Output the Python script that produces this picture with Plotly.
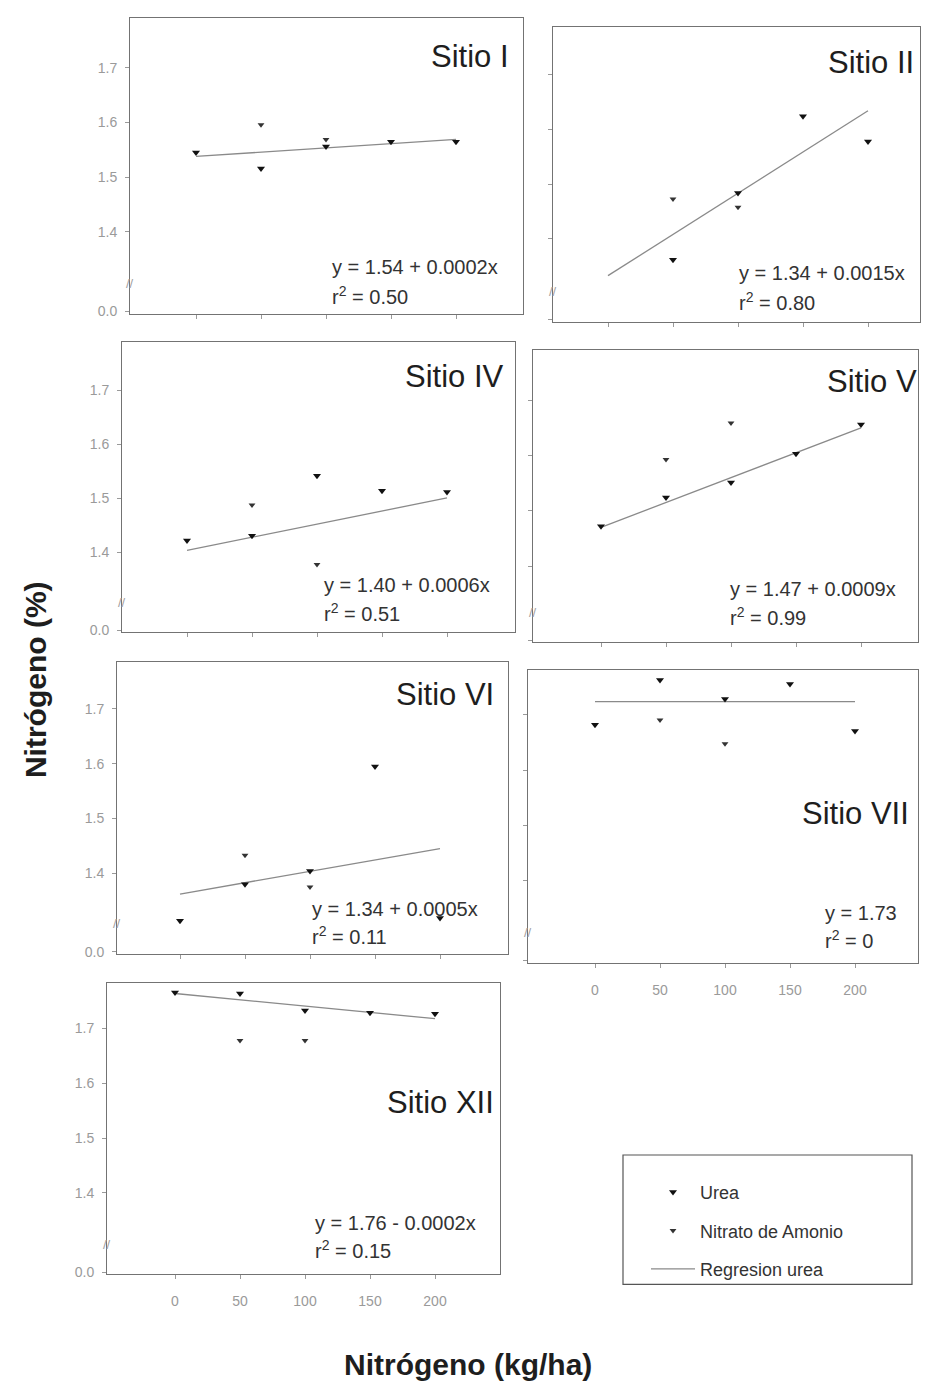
import plotly.graph_objects as go

W, H = 925, 1391

# ---------------- data ----------------
n_rates = [0, 50, 100, 150, 200]
reg_x = [0, 200]

sites = ["Sitio I", "Sitio II", "Sitio IV", "Sitio V", "Sitio VI", "Sitio VII", "Sitio XII"]

urea_I = [1.545, 1.516, 1.556, 1.565, 1.565]
nitrato_I = [None, 1.596, 1.569, None, None]
reg_I = [1.538, 1.569]

urea_II = [None, 1.362, 1.484, 1.624, 1.578]
nitrato_II = [None, 1.473, 1.458, None, None]
reg_II = [1.333, 1.634]

urea_IV = [1.422, 1.431, 1.542, 1.514, 1.512]
nitrato_IV = [None, 1.488, 1.378, None, None]
reg_IV = [1.404, 1.501]

urea_V = [1.472, 1.524, 1.551, 1.603, 1.656]
nitrato_V = [None, 1.593, 1.659, None, None]
reg_V = [1.470, 1.650]

urea_VI = [1.313, 1.380, 1.404, 1.595, 1.318]
nitrato_VI = [None, 1.433, 1.375, None, None]
reg_VI = [1.362, 1.445]

urea_VII = [1.682, 1.763, 1.729, 1.756, 1.671]
nitrato_VII = [None, 1.691, 1.648, None, None]
reg_VII = [1.724, 1.724]

urea_XII = [1.766, 1.764, 1.733, 1.729, 1.727]
nitrato_XII = [None, 1.678, 1.678, None, None]
reg_XII = [1.764, 1.718]

eq_texts = ["y = 1.54 + 0.0002x", "y = 1.34 + 0.0015x", "y = 1.40 + 0.0006x",
            "y = 1.47 + 0.0009x", "y = 1.34 + 0.0005x", "y = 1.73", "y = 1.76 - 0.0002x"]
r2_texts = ["0.50", "0.80", "0.51", "0.99", "0.11", "0", "0.15"]

y_tick_vals = [1.4, 1.5, 1.6, 1.7]
y_tick_text = ["1.4", "1.5", "1.6", "1.7"]
x_tick_vals = [0, 50, 100, 150, 200]
x_tick_text = ["0", "50", "100", "150", "200"]

urea_all = [urea_I, urea_II, urea_IV, urea_V, urea_VI, urea_VII, urea_XII]
nitrato_all = [nitrato_I, nitrato_II, nitrato_IV, nitrato_V, nitrato_VI, nitrato_VII, nitrato_XII]
reg_all = [reg_I, reg_II, reg_IV, reg_V, reg_VI, reg_VII, reg_XII]

# ---------------- layout geometry (pixels) ----------------
geom = [
    dict(L=130, R=523, T=18, B=315, z=196, p17=68, ppu=550, ylab=True, xlab=False,
         tr=511, tc=57, el=330, ec=268, rc=297),
    dict(L=553, R=920, T=27, B=323, z=608, p17=75, ppu=550, ylab=False, xlab=False,
         tr=916, tc=63, el=737, ec=274, rc=303),
    dict(L=122, R=515, T=343, B=635, z=187, p17=392, ppu=543, ylab=True, xlab=False,
         tr=506, tc=378, el=322, ec=588, rc=615),
    dict(L=533, R=918, T=352, B=645, z=601, p17=402, ppu=555, ylab=False, xlab=False,
         tr=919, tc=383, el=728, ec=592, rc=619),
    dict(L=117, R=508, T=665, B=958, z=180, p17=712, ppu=550, ylab=True, xlab=False,
         tr=496, tc=698, el=310, ec=913, rc=940),
    dict(L=528, R=918, T=673, B=967, z=595, p17=718, ppu=555, ylab=False, xlab=True,
         tr=911, tc=817, el=823, ec=917, rc=944),
    dict(L=107, R=500, T=987, B=1280, z=175, p17=1033, ppu=550, ylab=True, xlab=True,
         tr=496, tc=1107, el=313, ec=1228, rc=1255),
]

XPPU = 1.3  # px per kg/ha


def px_x(p):
    return p / W


def px_y(p):
    return 1 - p / H


FONT = "Liberation Sans, Arial, sans-serif"

fig = go.Figure()
annotations = []
shapes = []

for i, (site, g) in enumerate(zip(sites, geom)):
    k = i + 1
    xa = "x" if k == 1 else f"x{k}"
    ya = "y" if k == 1 else f"y{k}"
    first = (i == 0)

    fig.add_trace(go.Scatter(
        x=reg_x, y=reg_all[i], mode="lines", xaxis=xa, yaxis=ya,
        line=dict(color="#8a8a8a", width=1.3),
        name="Regresion urea", legendgroup="reg", showlegend=first, legendrank=3))
    fig.add_trace(go.Scatter(
        x=n_rates, y=urea_all[i], mode="markers", xaxis=xa, yaxis=ya,
        marker=dict(symbol="triangle-down", size=7, color="#111111"),
        name="Urea", legendgroup="urea", showlegend=first, legendrank=1))
    fig.add_trace(go.Scatter(
        x=n_rates, y=nitrato_all[i], mode="markers", xaxis=xa, yaxis=ya,
        marker=dict(symbol="triangle-down", size=6, color="#333333"),
        name="Nitrato de Amonio", legendgroup="nit", showlegend=first, legendrank=2))

    y1 = 1.7 + (g["p17"] - g["T"]) / g["ppu"]
    y0 = 1.7 - (g["B"] - g["p17"]) / g["ppu"]
    x0 = (g["L"] - g["z"]) / XPPU
    x1 = (g["R"] - g["z"]) / XPPU

    axis_common = dict(showline=True, mirror=True, linecolor="#737373", linewidth=1,
                       showgrid=False, zeroline=False, ticks="outside", ticklen=4,
                       tickcolor="#9a9a9a", tickfont=dict(family=FONT, size=14, color="#9a9a9a"))

    xkey = "xaxis" if k == 1 else f"xaxis{k}"
    ykey = "yaxis" if k == 1 else f"yaxis{k}"
    xaxis = dict(domain=[px_x(g["L"]), px_x(g["R"])], range=[x0, x1], anchor=ya,
                 tickvals=x_tick_vals, showticklabels=g["xlab"], **axis_common)
    yaxis = dict(domain=[px_y(g["B"]), px_y(g["T"])], range=[y0, y1], anchor=xa,
                 tickvals=[y0 + 0.004] + y_tick_vals, showticklabels=g["ylab"], **axis_common)
    if g["xlab"]:
        xaxis.update(ticktext=x_tick_text, ticklabelstandoff=10)
    if g["ylab"]:
        yaxis.update(ticktext=["0.0"] + y_tick_text, ticklabelstandoff=5)
    fig.update_layout(**{xkey: xaxis, ykey: yaxis})

    annotations.append(dict(text=site, xref="paper", yref="paper", x=px_x(g["tr"]), y=px_y(g["tc"]),
                            xanchor="right", yanchor="middle", showarrow=False,
                            font=dict(family=FONT, size=31, color="#1e1e1e")))
    annotations.append(dict(text=eq_texts[i], xref="paper", yref="paper", x=px_x(g["el"]), y=px_y(g["ec"]),
                            xanchor="left", yanchor="middle", showarrow=False,
                            font=dict(family=FONT, size=20, color="#333333")))
    annotations.append(dict(text="r<sup>2</sup> = " + r2_texts[i], xref="paper", yref="paper",
                            x=px_x(g["el"]), y=px_y(g["rc"]),
                            xanchor="left", yanchor="middle", showarrow=False,
                            font=dict(family=FONT, size=20, color="#333333")))
    # axis break mark
    annotations.append(dict(text="//", xref="paper", yref="paper", x=px_x(g["L"]), y=px_y(g["B"] - 30),
                            xanchor="center", yanchor="middle", showarrow=False,
                            font=dict(family=FONT, size=13, color="#a0a0a0")))

annotations.append(dict(text="<b>Nitrógeno (%)</b>", xref="paper", yref="paper", x=px_x(35), y=px_y(683),
                        xanchor="center", yanchor="middle", showarrow=False, textangle=-90,
                        font=dict(family=FONT, size=30, color="#1e1e1e")))
annotations.append(dict(text="<b>Nitrógeno (kg/ha)</b>", xref="paper", yref="paper", x=px_x(468), y=px_y(1370),
                        xanchor="center", yanchor="middle", showarrow=False,
                        font=dict(family=FONT, size=30, color="#1e1e1e")))

# legend frame
shapes.append(dict(type="rect", xref="paper", yref="paper",
                   x0=px_x(623), x1=px_x(912), y0=px_y(1290), y1=px_y(1160),
                   line=dict(color="#555555", width=1.2), fillcolor="rgba(0,0,0,0)"))

fig.update_layout(
    width=W, height=H,
    margin=dict(l=0, r=0, t=0, b=0),
    paper_bgcolor="white", plot_bgcolor="white",
    annotations=annotations, shapes=shapes,
    showlegend=True,
    legend=dict(x=px_x(646), y=px_y(1179), xanchor="left", yanchor="top",
                traceorder="grouped", tracegroupgap=12, bgcolor="rgba(0,0,0,0)",
                font=dict(family=FONT, size=18, color="#333333"), itemwidth=44),
)

fig.write_html("out.html")
